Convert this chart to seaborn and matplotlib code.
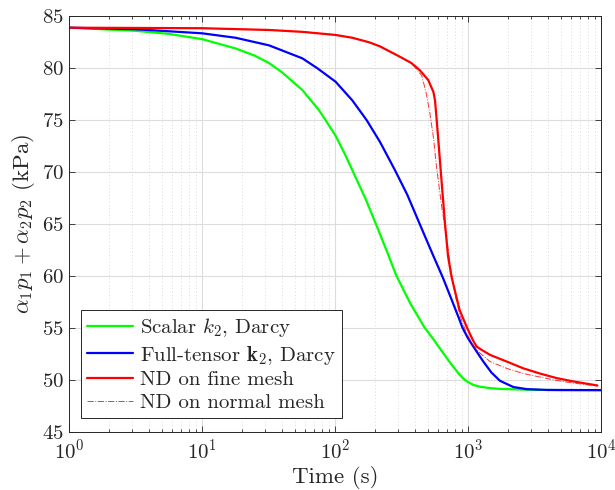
import numpy as np
import pandas as pd
import matplotlib
matplotlib.use("Agg")
import matplotlib.pyplot as plt
import matplotlib.ticker as mticker
import seaborn as sns

# ---- data ----
t_green = [1, 3.17, 5.65, 10, 17.9, 25, 31.9, 40, 56.8, 75.8, 85, 101, 118, 137, 170, 203, 245, 290, 370, 473, 550, 640, 729, 850, 917, 978, 1100, 1230, 1450, 1740, 2606, 5000, 10000]
y_green = [83.9, 83.6, 83.3, 82.8, 81.9, 81.2, 80.5, 79.6, 77.9, 75.96, 75.0, 73.5, 71.8, 70.0, 67.4, 65.0, 62.4, 60.0, 57.3, 55.0, 53.9, 52.7, 51.7, 50.6, 50.15, 49.85, 49.5, 49.33, 49.2, 49.12, 49.05, 49.0, 49.0]

t_blue = [1, 3.17, 10, 17.9, 31.9, 56.8, 73.6, 101, 135, 173, 218, 282, 350, 447, 546, 649, 754, 850, 910, 1000, 1097, 1296, 1500, 1740, 2193, 2762, 3900, 10000]
y_blue = [83.9, 83.75, 83.36, 82.93, 82.2, 80.95, 80.0, 78.7, 76.9, 75.0, 72.9, 70.2, 67.8, 64.6, 62.0, 59.8, 57.7, 56.0, 55.0, 54.0, 53.2, 51.8, 50.7, 49.9, 49.3, 49.1, 49.02, 49.0]

t_fine = [1, 10, 31.9, 56.8, 101, 135, 180, 218, 308, 375, 435, 503, 550, 565, 580, 599, 625, 672, 708, 750, 772, 866, 985, 1090, 1161, 1259, 1462, 1950, 2606, 3476, 4645, 6195, 9400]
y_fine = [83.9, 83.85, 83.68, 83.5, 83.2, 82.93, 82.5, 82.1, 81.1, 80.5, 79.8, 78.85, 77.7, 76.9, 75.2, 73.0, 70.0, 65.0, 61.9, 60.0, 59.3, 56.7, 55.0, 53.8, 53.2, 52.9, 52.4, 51.76, 51.1, 50.6, 50.16, 49.84, 49.45]

t_norm = [1, 10, 31.9, 56.8, 101, 135, 180, 218, 308, 375, 449, 485, 518, 550, 580, 634, 692, 740, 800, 870, 972, 1100, 1223, 1462, 1950, 2606, 3476, 4645, 6195, 9400]
y_norm = [83.9, 83.85, 83.68, 83.5, 83.2, 82.93, 82.5, 82.1, 81.1, 80.5, 79.3, 77.6, 75.6, 73.3, 70.5, 66.7, 63.5, 60.8, 58.2, 56.2, 54.5, 53.3, 52.6, 51.76, 51.1, 50.6, 50.26, 49.93, 49.68, 49.4]

labels = ["Scalar $k_2$, Darcy", r"Full-tensor $\mathbf{k}_2$, Darcy",
          "ND on fine mesh", "ND on normal mesh"]

sns.set_style("ticks")
plt.rcParams["font.family"] = "serif"
plt.rcParams["font.serif"] = ["cmr10", "DejaVu Serif"]
plt.rcParams["mathtext.fontset"] = "cm"
plt.rcParams["axes.formatter.use_mathtext"] = True
plt.rcParams["axes.unicode_minus"] = False

fig = plt.figure(figsize=(6.15, 4.9), dpi=100)
ax = fig.add_axes([0.1122, 0.119, 0.8650, 0.8478])

series = [
    (t_green, y_green, labels[0], "#00ff00", 1.6, "-", 1.0),
    (t_blue, y_blue, labels[1], "#0000ff", 1.6, "-", 1.0),
    (t_fine, y_fine, labels[2], "#ff0000", 1.6, "-", 1.0),
    (t_norm, y_norm, labels[3], "#ff0000", 0.7, "-.", 0.8),
]
for t, y, lab, col, lw, ls, al in series:
    df = pd.DataFrame({"t": t, "y": y})
    sns.lineplot(data=df, x="t", y="y", ax=ax, color=col, linewidth=lw,
                 linestyle=ls, alpha=al, label=lab, sort=False, estimator=None)

ax.set_xscale("log")
ax.set_xlim(1, 1e4)
ax.set_ylim(45, 85)
ax.set_yticks(np.arange(45, 86, 5))
ax.xaxis.set_major_locator(mticker.LogLocator(base=10, numticks=10))
ax.xaxis.set_minor_locator(mticker.LogLocator(base=10, subs=np.arange(2, 10), numticks=50))
ax.xaxis.set_minor_formatter(mticker.NullFormatter())

ax.grid(True, which="major", color="#dcdcdc", linewidth=0.8, linestyle="-")
ax.grid(True, which="minor", axis="x", color="#cfcfcf", linewidth=0.6, linestyle=(0, (1, 3)))
ax.set_axisbelow(True)

ax.tick_params(which="both", direction="in", top=True, right=True, labelsize=15,
               color="#262626", width=0.6)
ax.tick_params(which="major", length=4)
ax.tick_params(which="minor", length=2.5)
ax.tick_params(axis="x", which="major", pad=5)
for s in ax.spines.values():
    s.set_color("#262626")
    s.set_linewidth(0.7)
    s.set_visible(True)

ax.set_xlabel("Time (s)", fontsize=16.5, labelpad=2)
ax.set_ylabel(r"$\alpha_1 p_1 + \alpha_2 p_2$ (kPa)", fontsize=16.5, labelpad=4)

leg = ax.legend(loc="lower left", bbox_to_anchor=(0.022, 0.032), fontsize=15,
                frameon=True, fancybox=False, edgecolor="#262626", framealpha=1,
                handlelength=2.2, handletextpad=0.35, borderpad=0.3, labelspacing=0.2,
                borderaxespad=0)
leg.get_frame().set_linewidth(0.7)

fig.savefig("out.png", dpi=100)
